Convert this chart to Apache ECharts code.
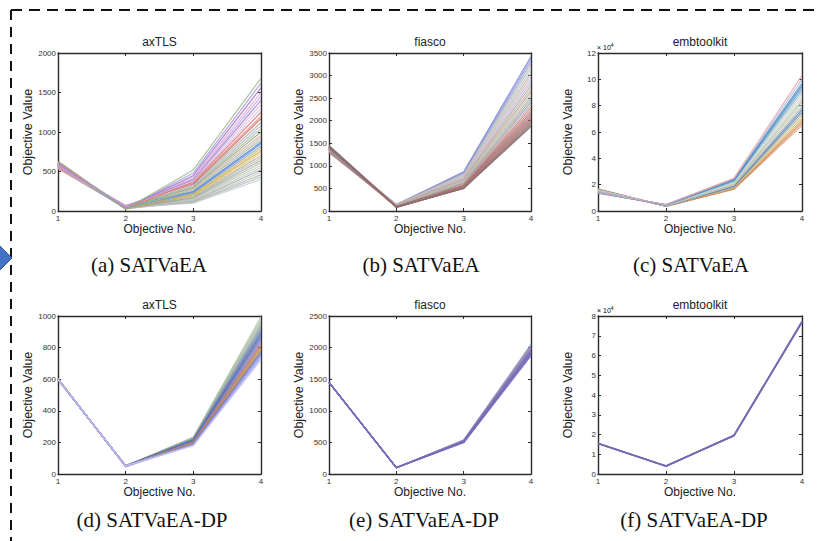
<!DOCTYPE html>
<html><head><meta charset="utf-8">
<script src="https://cdn.jsdelivr.net/npm/echarts@6/dist/echarts.min.js"></script>
<style>html,body{margin:0;padding:0;background:#fff}#c{width:820px;height:541px}</style>
</head><body><div id="c"></div>
<script>
// ---------- DATA ----------
const objectives = [1, 2, 3, 4];
const titles = ['axTLS', 'fiasco', 'embtoolkit', 'axTLS', 'fiasco', 'embtoolkit'];
const captions = ['(a) SATVaEA', '(b) SATVaEA', '(c) SATVaEA', '(d) SATVaEA-DP', '(e) SATVaEA-DP', '(f) SATVaEA-DP'];
const yMax = [2000, 3500, 120000, 1000, 2500, 80000];
const yStep = [500, 500, 20000, 200, 500, 10000];
const yScale = [1, 1, 10000, 1, 1, 10000];

const axTLS_SATVaEA = [
  [620, 25, 520, 1680], [610, 30, 480, 1620], [600, 35, 450, 1560], [590, 40, 430, 1500],
  [585, 45, 410, 1450], [575, 50, 400, 1400], [560, 55, 390, 1350], [600, 60, 380, 1300],
  [630, 28, 370, 1250], [545, 65, 360, 1200], [555, 70, 345, 1170], [615, 32, 335, 1120],
  [570, 48, 320, 1080], [595, 38, 310, 1040], [605, 42, 300, 1000], [540, 52, 290, 960],
  [580, 58, 280, 930], [625, 22, 270, 900], [565, 62, 250, 870], [590, 46, 240, 850],
  [550, 36, 230, 820], [610, 44, 220, 790], [575, 26, 210, 760], [600, 54, 200, 730],
  [535, 34, 190, 700], [585, 40, 180, 670], [620, 30, 170, 640], [560, 50, 160, 610],
  [595, 24, 150, 580], [545, 44, 140, 550], [605, 38, 130, 520], [570, 28, 125, 490],
  [590, 56, 115, 460], [555, 32, 110, 430], [615, 46, 100, 400]
];
const fiasco_SATVaEA = [
  [1350, 140, 870, 3420], [1330, 150, 850, 3350], [1380, 135, 830, 3280], [1300, 145, 810, 3200],
  [1360, 130, 790, 3130], [1400, 125, 770, 3060], [1320, 138, 750, 2990], [1440, 120, 735, 2920],
  [1370, 128, 720, 2850], [1310, 132, 700, 2780], [1420, 115, 690, 2710], [1390, 122, 670, 2650],
  [1340, 118, 650, 2590], [1450, 110, 635, 2530], [1355, 112, 620, 2470], [1410, 105, 605, 2410],
  [1325, 108, 590, 2350], [1435, 100, 575, 2290], [1380, 102, 565, 2230], [1300, 98, 555, 2180],
  [1445, 95, 545, 2130], [1395, 92, 535, 2090], [1420, 88, 525, 2050], [1365, 90, 520, 2010],
  [1430, 85, 515, 1980], [1405, 82, 510, 1950], [1385, 86, 505, 1920], [1440, 80, 500, 1890],
  [1415, 84, 502, 1870]
];
const embtoolkit_SATVaEA = [
  [14000, 4800, 25000, 103000], [14500, 4700, 24500, 100000], [13500, 4900, 24000, 97000],
  [14200, 4600, 23500, 95000], [13800, 4500, 23000, 93000], [14800, 4400, 22500, 91000],
  [15200, 4300, 22000, 89000], [14600, 4200, 21500, 87000], [15500, 4100, 21000, 85000],
  [15000, 4000, 20500, 83000], [15800, 3900, 20000, 81000], [16000, 3800, 19500, 79000],
  [15400, 3700, 19000, 77000], [16200, 3900, 18500, 75000], [16500, 3600, 18000, 73000],
  [15900, 3800, 17500, 71000], [16700, 3500, 17000, 69000], [16300, 3700, 16800, 67000],
  [16900, 3500, 16500, 65000]
];
const axTLS_DP = [
  [602, 48, 234, 995], [598, 52, 230, 975], [600, 50, 227, 960], [604, 47, 224, 945],
  [596, 53, 222, 930], [601, 49, 219, 918], [599, 51, 216, 905], [603, 46, 214, 893],
  [597, 54, 211, 880], [600, 50, 209, 868], [602, 48, 206, 856], [598, 52, 204, 845],
  [601, 49, 202, 834], [599, 51, 200, 823], [603, 47, 198, 812], [597, 53, 196, 802],
  [600, 50, 194, 792], [602, 48, 192, 782], [598, 52, 190, 772], [601, 49, 188, 762],
  [599, 51, 186, 752], [600, 50, 184, 742], [603, 47, 182, 732], [597, 53, 180, 722]
];
const fiasco_DP = [
  [1450, 98, 540, 2050], [1448, 100, 535, 2030], [1452, 97, 530, 2010], [1446, 102, 526, 1990],
  [1451, 99, 522, 1975], [1449, 101, 518, 1960], [1453, 96, 514, 1945], [1447, 103, 510, 1930],
  [1450, 100, 506, 1915], [1448, 98, 502, 1900], [1452, 101, 498, 1885], [1450, 99, 494, 1870]
];
const embtoolkit_DP = [
  [15500, 4000, 19500, 77000], [15450, 4050, 19400, 76800], [15550, 3950, 19600, 77200]
];
const panelData = [axTLS_SATVaEA, fiasco_SATVaEA, embtoolkit_SATVaEA, axTLS_DP, fiasco_DP, embtoolkit_DP];

// ---------- STYLE / LAYOUT ----------
const palette = ['#93b585', '#a58de0', '#8f6fc8', '#e6a0c4', '#b9a2ea', '#9c7ad0', '#e8b0c8',
  '#c9c0e8', '#d86a6a', '#e09090', '#d05858', '#a0b890', '#c0a8e0', '#9cc08c', '#8aa070',
  '#e0a8a8', '#b8b8b8', '#9bbf8a', '#4a78d8', '#6088dc', '#7aa0d0', '#d2b84a', '#c8a040',
  '#e0c870', '#a8a8a8', '#b0b8a0', '#9a9a9a', '#a8c098', '#c0c0c0', '#b8c8b0', '#a0a0b0',
  '#c8c8c8', '#b0b0b0', '#a8b8a8', '#c0c8d8'];
const paletteB = ['#6a78e0', '#8a90d8', '#a0a0c0', '#b0b0b0', '#c0c8d0', '#a8c0a8', '#e0b0b8',
  '#c8b8e0', '#b8b8b8', '#a0a8a0', '#d8a8b0', '#b0a890', '#c8c8a0', '#a0b0b8', '#b8a8a8',
  '#9098a0', '#a8a8a8', '#d07070', '#c08080', '#a07070', '#b06060', '#909090', '#d05050',
  '#a08080', '#888888', '#c06060', '#808890', '#707070', '#986868'];
const paletteC = ['#f0a0a0', '#a0b8e8', '#4a88c0', '#3a7ab0', '#60a0c8', '#90b8d0', '#c8d0c8',
  '#d8d8d8', '#c0c8b8', '#a8c0a0', '#d0d0c0', '#b0b0b0', '#4878b0', '#6090b8', '#c0b080',
  '#d8c080', '#c89050', '#d08040', '#e09070'];
const paletteD = ['#a8c0a0', '#98b090', '#b0b8a8', '#90a8a0', '#7890a8', '#8090b0', '#6a7ab8',
  '#5a70b0', '#4a68a8', '#5878b0', '#7080b8', '#8878c0', '#9a80c8', '#c07878', '#d06868',
  '#a0a040', '#c0a050', '#c08050', '#6070c0', '#7888d0', '#9090e0', '#a0a0f0', '#b0b0f0', '#c0c0f8'];
const paletteE = ['#8898c8', '#7888c0', '#9090b0', '#8080c0', '#d86080', '#6a78c0', '#7070b8',
  '#7868b8', '#6878b8', '#7a6cbc', '#7466b8', '#7c6cc0'];
const paletteF = ['#7868b0', '#7464ac', '#7a6ab4'];
const panelColors = [palette, paletteB, paletteC, paletteD, paletteE, paletteF];
const drawReversed = [true, false, true, false, false, false];

const grids = [
  {left: 58, top: 53, width: 203, height: 158},
  {left: 329, top: 53, width: 202, height: 158},
  {left: 598, top: 53, width: 204, height: 158},
  {left: 58, top: 316, width: 203, height: 158},
  {left: 329, top: 316, width: 202, height: 158},
  {left: 598, top: 316, width: 204, height: 158}
];
const captionX = [149, 421, 691, 152, 424, 694];
const captionY = [265, 265, 265, 520, 520, 520];

const ink = '#2a2a2a';
const lineAxis = {show: true, onZero: false, lineStyle: {color: ink, width: 1.4}};
const tick = {show: true, inside: true, length: 3, lineStyle: {color: ink, width: 1}};

const xAxis = [], yAxis = [], series = [], graphic = [];
grids.forEach((g, p) => {
  const lbl = {fontSize: 8, color: '#333', margin: 3, fontFamily: 'Liberation Sans'};
  xAxis.push({gridIndex: p, type: 'value', min: 1, max: 4, interval: 1, position: 'bottom',
    axisLine: lineAxis, axisTick: tick, splitLine: {show: false}, axisLabel: lbl});
  xAxis.push({gridIndex: p, type: 'value', min: 1, max: 4, interval: 1, position: 'top',
    axisLine: lineAxis, axisTick: tick, splitLine: {show: false}, axisLabel: {show: false}});
  yAxis.push({gridIndex: p, type: 'value', min: 0, max: yMax[p], interval: yStep[p], position: 'left',
    axisLine: lineAxis, axisTick: tick, splitLine: {show: false},
    axisLabel: Object.assign({}, lbl, {margin: 2, formatter: v => String(v / yScale[p])})});
  yAxis.push({gridIndex: p, type: 'value', min: 0, max: yMax[p], interval: yStep[p], position: 'right',
    axisLine: lineAxis, axisTick: tick, splitLine: {show: false}, axisLabel: {show: false}});

  const cols = panelColors[p];
  const lines = panelData[p].map((line, j) => ({line, color: cols[j % cols.length]}));
  if (drawReversed[p]) lines.reverse();
  lines.forEach(({line, color}) => {
    series.push({type: 'line', xAxisIndex: 2 * p, yAxisIndex: 2 * p, silent: true,
      showSymbol: false, animation: false,
      data: objectives.map((x, k) => [x, line[k]]),
      lineStyle: {width: p === 5 ? 1.6 : 1.2, color: color, opacity: p === 5 ? 1 : 0.8}});
  });

  const cx = g.left + g.width / 2;
  graphic.push({type: 'text', x: cx, y: g.top - 11, style: {text: titles[p], align: 'center',
    verticalAlign: 'middle', font: '12px "Liberation Sans"', fill: '#222'}});
  graphic.push({type: 'text', x: cx, y: g.top + g.height + 18, style: {text: 'Objective No.', align: 'center',
    verticalAlign: 'middle', font: '12px "Liberation Sans"', fill: '#222'}});
  graphic.push({type: 'text', x: g.left - 30, y: g.top + g.height / 2, rotation: Math.PI / 2,
    style: {text: 'Objective Value', align: 'center', verticalAlign: 'middle',
      font: '12.5px "Liberation Sans"', fill: '#222'}});
  graphic.push({type: 'text', x: captionX[p], y: captionY[p], style: {text: captions[p], align: 'center',
    verticalAlign: 'middle', font: '21px "Liberation Serif"', fill: '#111'}});
  if (yScale[p] !== 1) {
    graphic.push({type: 'text', x: g.left - 1, y: g.top - 6, style: {
      text: '{b|× 10}{s|4}', align: 'left', verticalAlign: 'middle',
      rich: {b: {fontSize: 7, fontFamily: 'Liberation Sans', color: '#333'},
             s: {fontSize: 5, fontFamily: 'Liberation Sans', verticalAlign: 'top', color: '#333', padding: [0, 0, 4, 0]}}}});
  }
});

// dashed frame and arrow
graphic.push({type: 'line', shape: {x1: 11, y1: 10, x2: 820, y2: 10},
  style: {stroke: '#111', lineWidth: 2, lineDash: [11, 7]}});
graphic.push({type: 'line', shape: {x1: 11, y1: 10, x2: 11, y2: 541},
  style: {stroke: '#111', lineWidth: 2, lineDash: [10, 7]}});
graphic.push({type: 'polygon', shape: {points: [[-12, 258], [0, 246], [12, 258], [0, 270]]},
  style: {fill: '#4472c4', stroke: '#2f5597', lineWidth: 1}});

const chart = echarts.init(document.getElementById('c'), null, {renderer: 'svg'});
chart.setOption({
  animation: false,
  backgroundColor: '#fff',
  grid: grids,
  xAxis: xAxis,
  yAxis: yAxis,
  series: series,
  graphic: graphic
});
</script></body></html>
